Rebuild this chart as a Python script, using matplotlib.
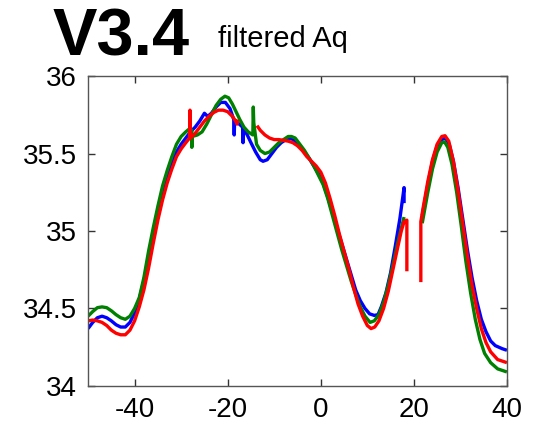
import numpy as np
import matplotlib
matplotlib.use("Agg")
import matplotlib.pyplot as plt

nan = np.nan

blue_x = [-50, -49, -48, -47, -46, -45, -44, -43, -42, -41, -40, -39, -38, -37, -36, -35, -34,
          -33, -32, -31, -30, -29, -28, -27, -26, -25, -24.3, -23.5, -22.5, -21.5, -20.5,
          -19.5, -18.7, -18.6, -18.5, -17.5, -16.8, -16.7, -16.6, -15.8, -15, -14, -13,
          -12.4, -11.5, -10.5, -9.5, -8.5, -7.5, -6.5, -5.5, -4.5, -3.5, -2.5, -1.5, -0.5,
          0.5, 1.5, 2.5, 3.5, 4.5, 5.5, 6.5, 7.5, 8.5, 9.5, 10.5, 11.5, 12.3, 13, 14, 15, 16,
          17, 17.9, 17.9, nan, 21.8, 23, 24, 25, 26, 26.8, 27.6, 28.5, 29.5, 30.5, 31.5, 32.5,
          33.5, 34.5, 35.5, 36.5, 37.5, 39, 40]
blue_y = [34.37, 34.41, 34.44, 34.45, 34.44, 34.42, 34.395, 34.38, 34.38, 34.41, 34.47, 34.56,
          34.68, 34.82, 34.97, 35.11, 35.24, 35.35, 35.44, 35.51, 35.56, 35.60, 35.64, 35.67,
          35.71, 35.76, 35.74, 35.76, 35.80, 35.83, 35.83, 35.79, 35.72, 35.62, 35.71, 35.69,
          35.67, 35.57, 35.66, 35.62, 35.57, 35.51, 35.46, 35.45, 35.46, 35.50, 35.54, 35.57,
          35.59, 35.60, 35.58, 35.55, 35.51, 35.47, 35.42, 35.37, 35.31, 35.22, 35.12, 35.02,
          34.92, 34.82, 34.72, 34.62, 34.55, 34.50, 34.465, 34.455, 34.46, 34.51, 34.60,
          34.73, 34.90, 35.08, 35.28, 35.18, nan, 35.10, 35.30, 35.45, 35.55, 35.59, 35.60,
          35.56, 35.45, 35.28, 35.08, 34.88, 34.70, 34.55, 34.43, 34.35, 34.29, 34.26,
          34.24, 34.23]

green_x = [-50, -49, -48, -47, -46, -45, -44, -43, -42, -41, -40, -39, -38, -37, -36, -35, -34,
           -33, -32, -31, -30, -29, -28.2, -27.7, -27.7, -27.6, -26.5, -25.5, -24.5, -23.5,
           -22.5, -21.5, -20.6, -19.8, -19, -18.2, -17.4, -16.5, -15.6, -14.6, -14.5, -14.4,
           -13.8, -13, -12, -11, -10, -9, -8, -7, -6.3, -5.5, -4.5, -3.5, -2.5, -1.5, -0.5,
           0.5, 1.5, 2.5, 3.5, 4.5, 5.5, 6.5, 7.5, 8.5, 9.5, 10.6, 11.5, 12.5, 13.5, 14.5,
           15.5, 16.5, 17.9, nan, 21.8, 23, 24, 25, 26, 26.6, 27.3, 28.2, 29.2, 30.2, 31.2,
           32.2, 33.2, 34.2, 35.2, 36.5, 38, 40]
green_y = [34.45, 34.48, 34.505, 34.51, 34.505, 34.485, 34.46, 34.44, 34.43, 34.45, 34.50,
           34.57, 34.70, 34.87, 35.02, 35.16, 35.29, 35.39, 35.48, 35.56, 35.61, 35.64, 35.66,
           35.65, 35.54, 35.61, 35.62, 35.64, 35.69, 35.75, 35.81, 35.85, 35.87, 35.86, 35.82,
           35.77, 35.72, 35.67, 35.64, 35.62, 35.80, 35.70, 35.56, 35.52, 35.50, 35.51, 35.54,
           35.57, 35.59, 35.61, 35.61, 35.60, 35.56, 35.52, 35.47, 35.42, 35.36, 35.30, 35.21,
           35.10, 34.99, 34.88, 34.78, 34.68, 34.59, 34.51, 34.45, 34.41, 34.42, 34.46, 34.54,
           34.65, 34.78, 34.92, 35.09, nan, 35.05, 35.25, 35.40, 35.51, 35.57, 35.575, 35.54,
           35.43, 35.25, 35.03, 34.80, 34.60, 34.43, 34.30, 34.21, 34.15, 34.11, 34.09]

red_x = [-50, -49, -48, -47, -46, -45, -44, -43, -42, -41, -40, -39, -38, -37, -36, -35, -34,
         -33, -32, -31, -30, -29, -28.2, -28.1, -28.0, -27, -26, -25, -24, -23, -22, -21, -20,
         -19, -18.3, -18.0, -17.9, nan, -13.7, -13, -12, -11, -10, -9, -8, -7, -6, -5, -4,
         -3, -2, -1, 0, 1, 2, 3, 4, 5, 6, 7, 8, 9, 10, 10.8, 11.6, 12.5, 13.5, 14.5, 15.5,
         16.5, 17.3, 17.9, 18.5, 18.5, nan, 21.5, 21.5, 22, 23, 24, 25, 26, 26.7, 27.5, 28.5,
         29.5, 30.5, 31.5, 32.5, 33.5, 34.5, 35.5, 36.5, 38, 40]
red_y = [34.42, 34.425, 34.42, 34.41, 34.39, 34.36, 34.34, 34.33, 34.33, 34.36, 34.42, 34.51,
         34.62, 34.76, 34.92, 35.07, 35.20, 35.31, 35.40, 35.48, 35.53, 35.57, 35.60, 35.78,
         35.60, 35.63, 35.67, 35.71, 35.74, 35.765, 35.78, 35.78, 35.77, 35.74, 35.71, 35.69,
         35.72, nan, 35.68, 35.65, 35.62, 35.60, 35.59, 35.59, 35.585, 35.58, 35.57, 35.55,
         35.52, 35.48, 35.45, 35.42, 35.38, 35.31, 35.21, 35.10, 34.98, 34.87, 34.76, 34.64,
         34.53, 34.45, 34.39, 34.37, 34.38, 34.42, 34.50, 34.61, 34.75, 34.89, 35.00, 35.06,
         35.07, 34.74, nan, 34.67, 35.06, 35.15, 35.32, 35.46, 35.56, 35.61, 35.615, 35.58,
         35.45, 35.26, 35.05, 34.84, 34.65, 34.50, 34.37, 34.28, 34.22, 34.17, 34.15]

x_ticks = [-40, -20, 0, 20, 40]
y_ticks = [34, 34.5, 35, 35.5, 36]
y_tick_labels = ["34", "34.5", "35", "35.5", "36"]

plt.rcParams['font.family'] = ['Liberation Sans', 'DejaVu Sans']

fig = plt.figure(figsize=(5.37, 4.25), dpi=100)
ax = fig.add_axes([0.164, 0.092, 0.780, 0.729])

lw = 2.4
for xs, ys, c in [(blue_x, blue_y, (0, 0, 1)),
                  (green_x, green_y, (0, 0.5, 0)),
                  (red_x, red_y, (1, 0, 0))]:
    ax.plot(xs, ys, color=c, lw=lw, solid_joinstyle='round', solid_capstyle='butt')

ax.set_xlim(-50, 40)
ax.set_ylim(34, 36)
ax.set_xticks(x_ticks)
ax.set_xticklabels([str(t) for t in x_ticks])
ax.set_yticks(y_ticks)
ax.set_yticklabels(y_tick_labels)
ax.tick_params(direction='in', length=5, width=1, top=True, right=True,
               labelsize=20, color='#333333', pad=8)
for s in ax.spines.values():
    s.set_color('#555555')
    s.set_linewidth(1)

fig.text(53 / 537, 1 - 55 / 425, "V3.4", fontsize=48, fontweight='bold',
         ha='left', va='baseline')
fig.text(218 / 537, 1 - 47 / 425, "filtered Aq", fontsize=21,
         ha='left', va='baseline')

fig.savefig("out.png", dpi=100)
